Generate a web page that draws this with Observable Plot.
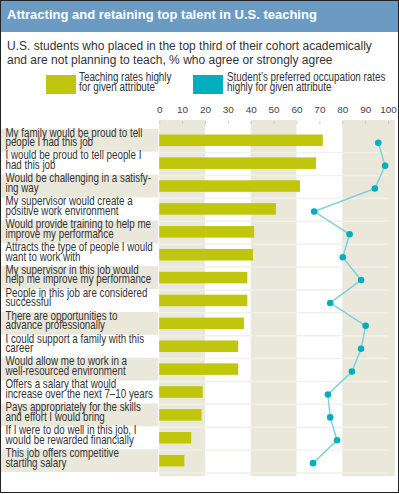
<!DOCTYPE html>
<html>
<head>
<meta charset="utf-8">
<script src="https://cdn.jsdelivr.net/npm/d3@7"></script>
<script src="https://cdn.jsdelivr.net/npm/@observablehq/plot@0.6"></script>
<style>
  html, body { margin: 0; padding: 0; background: #fff; }
  #wrap { position: relative; width: 399px; height: 493px; box-sizing: border-box; border: 1px solid #222; overflow: hidden; font-family: "Liberation Sans", Arial, sans-serif; }
  #title { position: absolute; left: -1px; top: -1px; width: 399px; height: 32px; background: #6b9bc3; color: #fff; font-weight: bold; font-size: 13px; line-height: 30px; padding-left: 7px; box-sizing: border-box; white-space: nowrap; }
  #subtitle { position: absolute; left: 6px; top: 39px; font-size: 12.5px; line-height: 13.5px; color: #333; white-space: pre; transform: scaleX(0.96); transform-origin: left top; }
  .sw { position: absolute; top: 74px; width: 30px; height: 19px; }
  .lg { position: absolute; top: 72px; font-size: 12px; line-height: 9.5px; color: #333; white-space: pre; transform: scaleX(0.82); transform-origin: left top; }
  #chart { position: absolute; left: -1px; top: 97px; }
</style>
</head>
<body>
<div id="wrap">
  <div id="title"></div>
  <div id="subtitle"></div>
  <div class="sw" id="sw1" style="left:45px"></div>
  <div class="lg" id="lg1" style="left:78px"></div>
  <div class="sw" id="sw2" style="left:192px"></div>
  <div class="lg" id="lg2" style="left:226px"></div>
  <div id="chart"></div>
</div>
<script>
const titleText = "Attracting and retaining top talent in U.S. teaching";
const subtitleText = "U.S. students who placed in the top third of their cohort academically\nand are not planning to teach, % who agree or strongly agree";
const seriesNames = ["Teaching rates highly\nfor given attribute", "Student\u2019s preferred occupation rates\nhighly for given attribute"];
const seriesColors = ["#bfc60b", "#00aebf"];

const categories = [
  "My family would be proud to tell\npeople I had this job",
  "I would be proud to tell people I\nhad this job",
  "Would be challenging in a satisfy-\ning way",
  "My supervisor would create a\npositive work environment",
  "Would provide training to help me\nimprove my performance",
  "Attracts the type of people I would\nwant to work with",
  "My supervisor in this job would\nhelp me improve my performance",
  "People in this job are considered\nsuccessful",
  "There are opportunities to\nadvance professionally",
  "I could support a family with this\ncareer",
  "Would allow me to work in a\nwell-resourced environment",
  "Offers a salary that would\nincrease over the next 7\u201310 years",
  "Pays appropriately for the skills\nand effort I would bring",
  "If I were to do well in this job, I\nwould be rewarded financially",
  "This job offers competitive\nstarting salary"
];
const teaching  = [71.5, 68.5, 61.5, 51, 41.5, 41, 38.5, 38.5, 37, 34.5, 34.5, 19, 18.5, 14, 11];
const preferred = [95.5, 98.5, 94, 67.5, 83, 80, 88, 74.5, 90, 88, 84, 73.5, 74.5, 77.5, 67];
const tickValues = [0, 10, 20, 30, 40, 50, 60, 70, 80, 90, 100];
const shadeFrom = [0, 40, 80];
const shadeTo = [20, 60, 103];

document.getElementById("title").textContent = titleText;
document.getElementById("subtitle").textContent = subtitleText;
document.getElementById("sw1").style.background = seriesColors[0];
document.getElementById("sw2").style.background = seriesColors[1];
document.getElementById("lg1").textContent = seriesNames[0];
document.getElementById("lg2").textContent = seriesNames[1];

const rows = categories.map((c, i) => ({cat: c, teaching: teaching[i], preferred: preferred[i], i}));
const shades = shadeFrom.map((f, i) => ({from: f, to: shadeTo[i]}));
const beige = "#e9e8db";
const mL = 160;

const chart = Plot.plot({
  width: 400,
  height: 386,
  marginLeft: mL,
  marginRight: 10,
  marginTop: 25,
  marginBottom: 4,
  x: {domain: [0, 100], axis: null},
  y: {domain: categories, padding: 0, axis: null},
  style: "background: transparent; overflow: visible; font-family: 'Liberation Sans', Arial, sans-serif;",
  marks: [
    Plot.rect(shades, {x1: "from", x2: "to", fill: beige, insetTop: -3, insetBottom: 2}),
    Plot.barX(rows.filter(d => d.i % 2 === 0), {y: "cat", x1: 0, x2: 0, insetLeft: -159, insetRight: 1, fill: beige}),
    Plot.ruleY(rows, {y: "cat", dy: 11.9, stroke: "#f1f1ea", strokeWidth: 1.5}),
    Plot.barX(rows, {y: "cat", x: "teaching", fill: seriesColors[0], insetTop: 5.7, insetBottom: 5.7}),
    Plot.line(rows, {x: "preferred", y: "cat", stroke: "#7fd2dc", strokeWidth: 1.5, dy: 2}),
    Plot.dot(rows, {x: "preferred", y: "cat", r: 3.3, fill: seriesColors[1], stroke: "none", dy: 2}),
    Plot.text(rows, {y: "cat", text: "cat", frameAnchor: "left", textAnchor: "start", lineHeight: 0.8, fontSize: 12, fill: "#333"}),
    Plot.axisX({anchor: "top", ticks: tickValues, tickSize: 3, tickPadding: 7, stroke: "#ccc", fill: "#444", fontSize: 10})
  ]
});
// condense the row labels (narrow type) and place them at the left edge, keeping Plot's band offset
const labelGroup = [...chart.querySelectorAll("g")].find(g => g.getAttribute("aria-label") === "text");
if (labelGroup) {
  const existing = labelGroup.getAttribute("transform") || "";
  labelGroup.setAttribute("transform", `${existing} translate(5,-2.5) scale(0.82,1) translate(${-mL},0)`);
}
document.getElementById("chart").appendChild(chart);
</script>
</body>
</html>
